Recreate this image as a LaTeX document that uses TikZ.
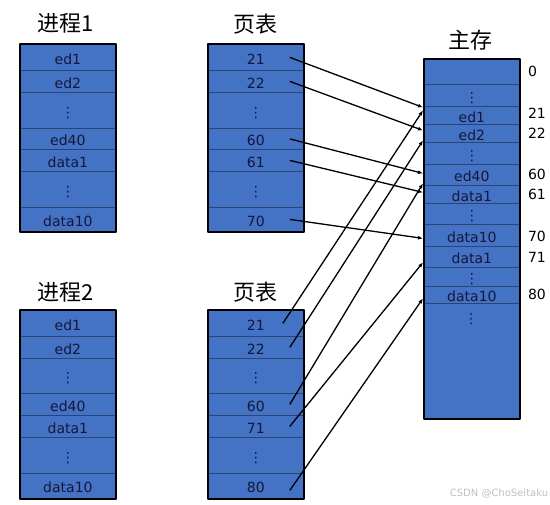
\documentclass[tikz,border=0pt]{standalone}
\usepackage{fontspec}
\setmainfont{DejaVu Sans}
\newfontfamily\cjkfont{Noto Sans CJK SC}
\usetikzlibrary{arrows.meta}

\definecolor{cellblue}{HTML}{4472C4}
\definecolor{cellrule}{HTML}{2B4473}
\definecolor{celltext}{HTML}{15173A}

\begin{document}
\begin{tikzpicture}[
  x=1pt,
  y=-1pt,
  line join=round,
  cell/.style={
    draw=cellrule,
    line width=0.8pt,
    fill=cellblue,
    anchor=north west,
    minimum width=95,
    inner sep=0pt,
    text height=14pt,
    text depth=0pt,
    text=celltext,
    font=\fontsize{14}{16}\selectfont
  },
  frame/.style={
    draw=black,
    line width=2.4pt
  },
  head/.style={
    font=\cjkfont\fontsize{22}{26}\selectfont
  },
  addr/.style={
    anchor=west,
    inner sep=0pt,
    font=\fontsize{14}{16}\selectfont
  },
  link/.style={
    -{Latex[length=5pt,width=4pt]},
    line width=1.3pt,
    draw=black
  },
  wmark/.style={
    text=black!25,
    font=\fontsize{10}{12}\selectfont
  }
]

\useasboundingbox (0,0) rectangle (550,505);

% =========================================================
% Titles
% =========================================================

\node[head] (pahead) at (66,23) {进程1};
\node[head] (tahead) at (255,24) {页表};
\node[head] (mhead) at (470,40) {主存};
\node[head] (pbhead) at (66,292) {进程2};
\node[head] (tbhead) at (255,292) {页表};

% =========================================================
% Process 1 and its page table
% =========================================================

\node[cell, minimum height=26] (pa1) at (20,44) {ed1};
\node[cell, minimum height=22] (pa2) at (20,70) {ed2};
\node[cell, minimum height=36] (pa3) at (20,92) {⋮};
\node[cell, minimum height=21] (pa4) at (20,128) {ed40};
\node[cell, minimum height=22] (pa5) at (20,149) {data1};
\node[cell, minimum height=36] (pa6) at (20,171) {⋮};
\node[cell, minimum height=24] (pa7) at (20,207) {data10};
\draw[frame] (pa1.north west) rectangle (pa7.south east);

\node[cell, minimum height=26] (ta1) at (208,44) {21};
\node[cell, minimum height=22] (ta2) at (208,70) {22};
\node[cell, minimum height=36] (ta3) at (208,92) {⋮};
\node[cell, minimum height=21] (ta4) at (208,128) {60};
\node[cell, minimum height=22] (ta5) at (208,149) {61};
\node[cell, minimum height=36] (ta6) at (208,171) {⋮};
\node[cell, minimum height=24] (ta7) at (208,207) {70};
\draw[frame] (ta1.north west) rectangle (ta7.south east);

% =========================================================
% Process 2 and its page table
% =========================================================

\node[cell, minimum height=26] (pb1) at (20,310) {ed1};
\node[cell, minimum height=22] (pb2) at (20,336) {ed2};
\node[cell, minimum height=35] (pb3) at (20,358) {⋮};
\node[cell, minimum height=22] (pb4) at (20,393) {ed40};
\node[cell, minimum height=22] (pb5) at (20,415) {data1};
\node[cell, minimum height=36] (pb6) at (20,437) {⋮};
\node[cell, minimum height=25] (pb7) at (20,473) {data10};
\draw[frame] (pb1.north west) rectangle (pb7.south east);

\node[cell, minimum height=26] (tb1) at (208,310) {21};
\node[cell, minimum height=22] (tb2) at (208,336) {22};
\node[cell, minimum height=35] (tb3) at (208,358) {⋮};
\node[cell, minimum height=22] (tb4) at (208,393) {60};
\node[cell, minimum height=22] (tb5) at (208,415) {71};
\node[cell, minimum height=36] (tb6) at (208,437) {⋮};
\node[cell, minimum height=25] (tb7) at (208,473) {80};
\draw[frame] (tb1.north west) rectangle (tb7.south east);

% =========================================================
% Main memory
% =========================================================

\node[cell, minimum height=25] (m0) at (424,59) {};
\node[cell, minimum height=22] (m1) at (424,84) {⋮};
\node[cell, minimum height=18] (m2) at (424,106) {ed1};
\node[cell, minimum height=18] (m3) at (424,124) {ed2};
\node[cell, minimum height=22] (m4) at (424,142) {⋮};
\node[cell, minimum height=21] (m5) at (424,164) {ed40};
\node[cell, minimum height=18] (m6) at (424,185) {data1};
\node[cell, minimum height=21] (m7) at (424,203) {⋮};
\node[cell, minimum height=22] (m8) at (424,224) {data10};
\node[cell, minimum height=21] (m9) at (424,246) {data1};
\node[cell, minimum height=19] (m10) at (424,267) {⋮};
\node[cell, minimum height=17] (m11) at (424,286) {data10};
\node[cell, minimum height=115] (m12) at (424,303) {};
\node[font=\fontsize{14}{16}\selectfont, text=celltext, inner sep=0pt] (mtail) at (471,319) {⋮};
\draw[frame] (m0.north west) rectangle (m12.south east);

% frame numbers
\node[addr] (a0) at ([xshift=8pt]m0.east) {0};
\node[addr] (a21) at ([xshift=8pt,yshift=2pt]m2.east) {21};
\node[addr] (a22) at ([xshift=8pt]m3.east) {22};
\node[addr] (a60) at ([xshift=8pt]m5.east) {60};
\node[addr] (a61) at ([xshift=8pt]m6.east) {61};
\node[addr] (a70) at ([xshift=8pt,yshift=-1pt]m8.east) {70};
\node[addr] (a71) at ([xshift=8pt]m9.east) {71};
\node[addr] (a80) at ([xshift=8pt]m11.east) {80};

% =========================================================
% Page table entries -> frames
% =========================================================

\draw[link] ([xshift=-14pt]ta1.east) -- ([xshift=-1pt,yshift=8pt]m2.west);
\draw[link] ([xshift=-14pt]ta2.east) -- ([xshift=-1pt,yshift=3pt]m3.west);
\draw[link] ([xshift=-14pt]ta4.east) -- ([xshift=-1pt,yshift=1.5pt]m5.west);
\draw[link] ([xshift=-14pt]ta5.east) -- ([xshift=-1pt,yshift=2pt]m6.west);
\draw[link] ([xshift=-14pt]ta7.east) -- ([xshift=-1pt,yshift=-3pt]m8.west);

\draw[link] ([xshift=-21pt]tb1.east) -- ([xshift=-1pt,yshift=5pt]m2.west);
\draw[link] ([xshift=-14pt]tb2.east) -- ([xshift=-1pt,yshift=-7pt]m3.west);
\draw[link] ([xshift=-14pt]tb4.east) -- ([xshift=-1pt,yshift=-8.5pt]m5.west);
\draw[link] ([xshift=-14pt]tb5.east) -- ([xshift=-1pt,yshift=-5.5pt]m9.west);
\draw[link] ([xshift=-14pt,yshift=-4.5pt]tb7.east) -- ([xshift=-1pt,yshift=-3.5pt]m11.west);

\node[wmark] (wm) at (499,494) {CSDN @ChoSeitaku};

\end{tikzpicture}
\end{document}
